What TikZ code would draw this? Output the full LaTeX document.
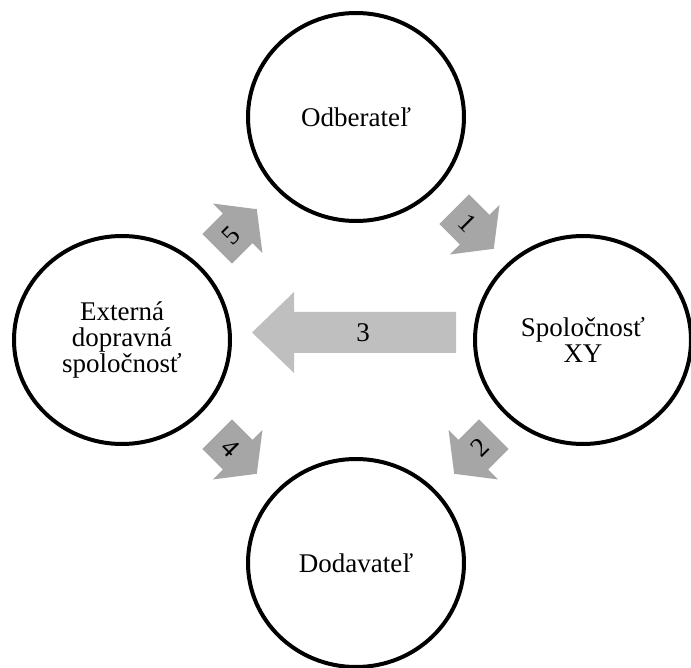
\documentclass[tikz,border=0pt]{standalone}
\usepackage{fontspec}
\setmainfont{Liberation Serif}
\usetikzlibrary{shapes.geometric}
\definecolor{arrowgray}{RGB}{166,166,166}
\definecolor{lightarrowgray}{RGB}{191,191,191}
\tikzset{
  party/.style={ellipse, draw=black, line width=2pt, minimum width=108pt, minimum height=104pt,
    inner sep=0pt, align=center, font=\fontsize{13.5}{13}\selectfont},
  smallarrow/.style={fill=arrowgray, draw=none},
  bigarrow/.style={fill=lightarrowgray, draw=none},
  arrowlabel/.style={inner sep=0pt, font=\fontsize{13.5}{13}\selectfont}
}
\begin{document}
\begin{tikzpicture}[x=0.5pt, y=-0.5pt]
    \useasboundingbox (0,0) rectangle (691,668);
    % Draw the four parties of the cycle.
    \node[party] (odb) at (356,117) {Odberateľ};
    \node[party] (spol) at (583,340) {Spoločnosť\\XY};
    \node[party] (dod) at (356,563) {Dodavateľ};
    \node[party] (ext) at (122,340) {Externá\\dopravná\\spoločnosť};
    % Draw the small numbered arrows between the parties.
    \foreach \nm/\px/\py/\dir/\trot/\lbl in {a1/474/229/-45/-45/1, a2/474/454/-135/45/2,
        a4/237/454/-45/-45/4, a5/237/229/45/45/5}{
      \begin{scope}[shift={(\px,\py)}, rotate=\dir]
        \fill[smallarrow] (-28,-21) -- (1,-21) -- (1,-35) -- (28,0) -- (1,35) -- (1,21) -- (-28,21) -- cycle;
        \node[arrowlabel, rotate=\trot] (\nm) at (-9,0) {\lbl};
      \end{scope}
    }
    % Draw the long arrow from the company to the carrier.
    \fill[bigarrow] (456,312) -- (294,312) -- (294,292) -- (252,332.5) -- (294,373) -- (294,353) -- (456,353) -- cycle;
    \node[arrowlabel] (a3) at (363,332.5) {3};
\end{tikzpicture}
\end{document}
